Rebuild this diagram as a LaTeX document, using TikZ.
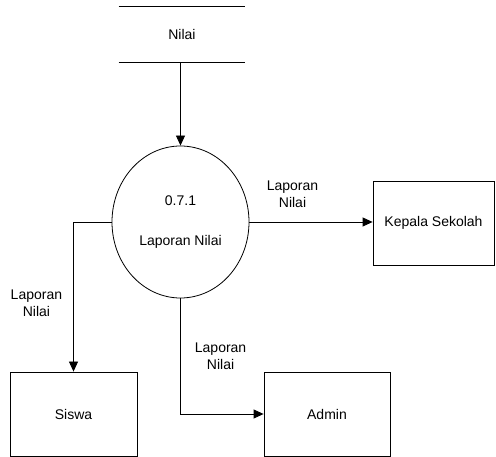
\documentclass[tikz,border=0pt]{standalone}
\usepackage{fontspec}
\setmainfont{Liberation Sans}
\usetikzlibrary{arrows.meta,shapes.geometric}

\begin{document}
\begin{tikzpicture}[x=1pt,y=-1pt,line width=0.8pt,
    font=\fontsize{14}{17}\selectfont,
    box/.style={draw,minimum width=126pt,minimum height=84pt,inner sep=0pt},
    lbl/.style={align=center,inner sep=2pt},
    arr/.style={-{Triangle[length=10pt,width=9pt]}}]

    \useasboundingbox (0,0) rectangle (496,457);

    \node (nilai) [minimum width=126pt,minimum height=55pt] at (182,34.5) {Nilai};
    \node (proses) [draw,ellipse,minimum width=137pt,minimum height=152pt,inner sep=0pt,align=center] at (180.5,222) {0.7.1\\[23pt]Laporan Nilai};
    \node (kepsek) [box,minimum width=121pt] at (433.5,223) {Kepala Sekolah};
    \node (siswa) [box,minimum width=127pt] at (73.5,414) {Siswa};
    \node (admin) [box] at (327,414) {Admin};

    \draw (nilai.north west) -- (nilai.north east);
    \draw (nilai.south west) -- (nilai.south east);

    \draw [arr] (nilai.south -| proses.north) -- (proses.north);
    \draw [arr] (proses.east) -- node [lbl, pos=.35, above=12pt] {Laporan\\Nilai} (proses.east -| kepsek.west);
    \draw [arr] (proses.west) -| node [lbl, pos=.77, left=9pt] {Laporan\\Nilai} (siswa.north);
    \draw [arr] (proses.south) |- node [lbl, pos=.25, right=12pt] {Laporan\\Nilai} (admin.west);

\end{tikzpicture}
\end{document}
